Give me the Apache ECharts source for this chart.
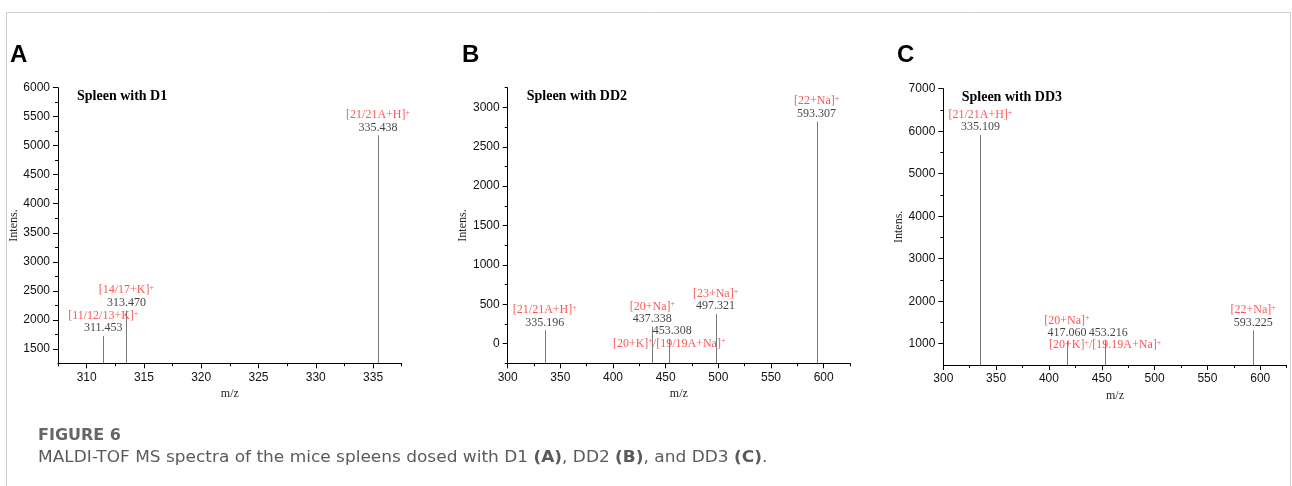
<!DOCTYPE html>
<html>
<head>
<meta charset="utf-8">
<script src="https://cdn.jsdelivr.net/npm/echarts@6/dist/echarts.min.js"></script>
<style>
  html, body { margin: 0; padding: 0; background: #fff; }
  #chart { width: 1292px; height: 486px; }
</style>
</head>
<body>
<div id="chart"></div>
<script>
// Panel A - Spleen with D1
const mzA = [311.453, 313.470, 335.438]
const intensA = [1720, 2160, 5180]
const ionsA = ['[11/12/13+K]^+', '[14/17+K]^+', '[21/21A+H]^+']
const belowA = [false, false, false]
const xTicksA = [310, 315, 320, 325, 330, 335]
const xMinorA = [307.5, 312.5, 317.5, 322.5, 327.5, 332.5, 337.5]
const yTicksA = [1500, 2000, 2500, 3000, 3500, 4000, 4500, 5000, 5500, 6000]
const yMinorA = [1750, 2250, 2750, 3250, 3750, 4250, 4750, 5250, 5750]

// Panel B - Spleen with DD2
const mzB = [335.196, 437.338, 453.308, 497.321, 593.307]
const intensB = [170, 213, 60, 375, 2820]
const ionsB = ['[21/21A+H]^+', '[20+Na]^+', '[20+K]^+/[19/19A+Na]^+', '[23+Na]^+', '[22+Na]^+']
const belowB = [false, false, true, false, false]
const xTicksB = [300, 350, 400, 450, 500, 550, 600]
const xMinorB = [325, 375, 425, 475, 525, 575, 625]
const yTicksB = [0, 500, 1000, 1500, 2000, 2500, 3000]
const yMinorB = [-250, 250, 750, 1250, 1750, 2250, 2750, 3250]

// Panel C - Spleen with DD3
const mzC = [335.109, 417.060, 453.216, 593.225]
const intensC = [5910, 1070, 1080, 1315]
const ionsC = ['[21/21A+H]^+', '[20+Na]^+', '[20+K]^+/[19.19A+Na]^+', '[22+Na]^+']
const belowC = [false, false, true, false]
const xTicksC = [300, 350, 400, 450, 500, 550, 600]
const xMinorC = [325, 375, 425, 475, 525, 575, 625]
const yTicksC = [1000, 2000, 3000, 4000, 5000, 6000, 7000]
const yMinorC = [1500, 2500, 3500, 4500, 5500, 6500]

const SERIF = "'Liberation Serif', 'DejaVu Serif', serif"
const SANS = "'Liberation Sans', Arial, sans-serif"
const CAP = "'DejaVu Sans', 'Open Sans', sans-serif"
const RED = '#ff2b2b'

const panels = [
  { letter: 'A', title: 'Spleen with D1', mz: mzA, intens: intensA, ions: ionsA, below: belowA,
    xMin: 307.5, xMax: 337.5, xTicks: xTicksA, xMinor: xMinorA,
    yMin: 1250, yMax: 6000, yTicks: yTicksA, yMinor: yMinorA,
    grid: { left: 58, top: 87.7, width: 343.7, height: 275.6 }, letterX: 10, titleX: 77 },
  { letter: 'B', title: 'Spleen with DD2', mz: mzB, intens: intensB, ions: ionsB, below: belowB,
    xMin: 300, xMax: 625, xTicks: xTicksB, xMinor: xMinorB,
    yMin: -250, yMax: 3250, yTicks: yTicksB, yMinor: yMinorB,
    grid: { left: 507.7, top: 87.7, width: 342.3, height: 275.6 }, letterX: 462, titleX: 526.7 },
  { letter: 'C', title: 'Spleen with DD3', mz: mzC, intens: intensC, ions: ionsC, below: belowC,
    xMin: 300, xMax: 625, xTicks: xTicksC, xMinor: xMinorC,
    yMin: 500, yMax: 7000, yTicks: yTicksC, yMinor: yMinorC,
    grid: { left: 943.3, top: 88.7, width: 343.4, height: 276.3 }, letterX: 897, titleX: 961.7 }
]

function richName(s) {
  const parts = s.split('^+')
  return parts.map((p, i) => (p ? '{n|' + p + '}' : '') + (i < parts.length - 1 ? '{s|+}' : '')).join('')
}

const chart = echarts.init(document.getElementById('chart'))

const grid = []
const xAxis = []
const yAxis = []
const series = []
const graphic = [
  { type: 'rect', shape: { x: 6.5, y: 12.5, width: 1284, height: 520 },
    style: { fill: 'none', stroke: '#cfcfcf', lineWidth: 1 }, silent: true }
]

panels.forEach((p, i) => {
  grid.push(Object.assign({ containLabel: false }, p.grid))
  const ax = 2 * i
  // main x axis
  xAxis.push({
    type: 'value', gridIndex: i, min: p.xMin, max: p.xMax, position: 'bottom',
    name: 'm/z', nameLocation: 'middle', nameGap: 21,
    nameTextStyle: { fontFamily: SERIF, fontSize: 12, color: '#222' },
    axisLine: { show: true, onZero: false, lineStyle: { color: '#000', width: 1 } },
    axisTick: { show: true, length: 5, customValues: p.xTicks, lineStyle: { color: '#000' } },
    axisLabel: { customValues: p.xTicks, formatter: v => String(v), fontFamily: SANS, fontSize: 12, color: '#111', margin: 8 },
    splitLine: { show: false }
  })
  // minor x ticks
  xAxis.push({
    type: 'value', gridIndex: i, min: p.xMin, max: p.xMax, position: 'bottom',
    axisLine: { show: false, onZero: false },
    axisTick: { show: true, length: 3, customValues: p.xMinor, lineStyle: { color: '#000' } },
    axisLabel: { show: false }, splitLine: { show: false }
  })
  yAxis.push({
    type: 'value', gridIndex: i, min: p.yMin, max: p.yMax, position: 'left',
    name: 'Intens.', nameLocation: 'middle', nameGap: 35, nameRotate: 90,
    nameTextStyle: { fontFamily: SERIF, fontSize: 12, color: '#222' },
    axisLine: { show: true, onZero: false, lineStyle: { color: '#000', width: 1 } },
    axisTick: { show: true, length: 5, customValues: p.yTicks, lineStyle: { color: '#000' } },
    axisLabel: { customValues: p.yTicks, formatter: v => String(v), fontFamily: SANS, fontSize: 12, color: '#111', margin: 8 },
    splitLine: { show: false }
  })
  yAxis.push({
    type: 'value', gridIndex: i, min: p.yMin, max: p.yMax, position: 'left',
    axisLine: { show: false, onZero: false },
    axisTick: { show: true, length: 3, customValues: p.yMinor, lineStyle: { color: '#000' } },
    axisLabel: { show: false }, splitLine: { show: false }
  })

  const data = p.mz.map((m, k) => [m, p.intens[k]])
  const yBase = p.yMin

  // peak sticks
  series.push({
    type: 'custom', xAxisIndex: ax, yAxisIndex: ax, data: data, silent: true,
    renderItem: function (params, api) {
      const top = api.coord([api.value(0), api.value(1)])
      const base = api.coord([api.value(0), yBase])
      const x = Math.round(top[0]) + 0.5
      return {
        type: 'line',
        shape: { x1: x, y1: top[1], x2: x, y2: base[1] },
        style: { stroke: '#7a7a7a', lineWidth: 1 }
      }
    }
  })

  // peak annotations
  series.push({
    type: 'scatter', xAxisIndex: ax, yAxisIndex: ax, silent: true,
    symbolSize: 1, itemStyle: { color: 'transparent' },
    data: data.map((d, k) => ({
      value: d,
      label: {
        show: true, position: 'top', distance: 1, align: 'center',
        offset: p.below[k] ? [0, 12.5] : [0, 0],
        formatter: p.below[k]
          ? '{w|' + p.mz[k].toFixed(3) + '}\n' + richName(p.ions[k])
          : richName(p.ions[k]) + '\n{v|' + p.mz[k].toFixed(3) + '}',
        rich: {
          n: { color: RED, fontSize: 12, fontFamily: SERIF, lineHeight: 12.5 },
          s: { color: RED, fontSize: 8, fontFamily: SERIF, lineHeight: 6, verticalAlign: 'top' },
          v: { color: '#111', fontSize: 12, fontFamily: SERIF, lineHeight: 12.5 },
          w: { color: '#111', fontSize: 12, fontFamily: SERIF, lineHeight: 12.5, padding: [0, 0, 0, 6] }
        }
      }
    }))
  })

  graphic.push({
    type: 'text', left: p.letterX, top: 43,
    style: { text: p.letter, font: 'bold 24px ' + SANS, fill: '#000' }
  })
  graphic.push({
    type: 'text', left: p.titleX, top: p.grid.top + 2,
    style: { text: p.title, font: 'bold 14px ' + SERIF, fill: '#000' }
  })
})

graphic.push({
  type: 'text', left: 38, top: 428,
  style: { text: 'FIGURE 6', font: 'bold 16px ' + CAP, fill: '#666' }
})
graphic.push({
  type: 'text', x: 38, y: 450, scaleX: 1.06,
  style: {
    text: '{t|MALDI-TOF MS spectra of the mice spleens dosed with D1 }{b|(A)}{t|, DD2 }{b|(B)}{t|, and DD3 }{b|(C)}{t|.}',
    rich: {
      t: { font: '16px ' + CAP, fill: '#5a5a5a' },
      b: { font: 'bold 16px ' + CAP, fill: '#5a5a5a' }
    }
  }
})

chart.setOption({
  animation: false,
  grid: grid,
  xAxis: xAxis,
  yAxis: yAxis,
  series: series,
  graphic: graphic
})
</script>
</body>
</html>
